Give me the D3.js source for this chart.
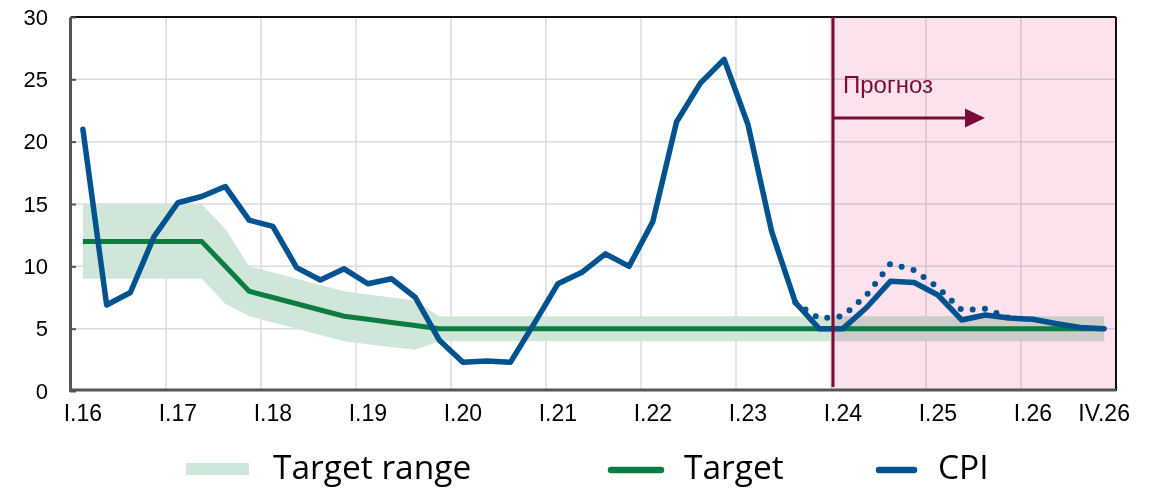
<!DOCTYPE html>
<html>
<head>
<meta charset="utf-8">
<script src="https://cdn.jsdelivr.net/npm/d3@7"></script>
<style>
  body { margin: 0; background: #fff; }
  svg { display: block; }
</style>
</head>
<body>
<script>
var years = ["16","17","18","19","20","21","22","23","24","25","26"];
var quarterNames = ["I","II","III","IV"];
var xTickLabels = ["I.16","I.17","I.18","I.19","I.20","I.21","I.22","I.23","I.24","I.25","I.26","IV.26"];
var yTicks = [0, 5, 10, 15, 20, 25, 30];

// CPI, % y/y, quarterly I.16 .. IV.26
var cpi = [21.0, 6.9, 7.9, 12.4, 15.1, 15.6, 16.4, 13.7, 13.2, 9.9, 8.9, 9.8,
           8.6, 9.0, 7.5, 4.1, 2.3, 2.4, 2.3, 5.4, 8.6, 9.5, 11.0, 10.0,
           13.6, 21.6, 24.7, 26.6, 21.4, 12.8, 7.1, 5.0, 5.0, 6.7, 8.8, 8.7,
           7.7, 5.7, 6.1, 5.85, 5.75, 5.4, 5.1, 5.0];
// alternative forecast scenario (dotted), III.23 .. IV.25
var cpiAltStart = "III.23";
var cpiAlt = [7.1, 5.8, 6.0, 7.7, 10.2, 9.7, 8.3, 6.5, 6.6, 5.85];

var target = [12, 12, 12, 12, 12, 12, 10, 8, 7.5, 7, 6.5, 6,
              5.75, 5.5, 5.25, 5, 5, 5, 5, 5, 5, 5, 5, 5,
              5, 5, 5, 5, 5, 5, 5, 5, 5, 5, 5, 5,
              5, 5, 5, 5, 5, 5, 5, 5];
var rangeHigh = [15, 15, 15, 15, 15, 15, 13, 10, 9.5, 9, 8.5, 8,
                 7.75, 7.5, 7.25, 6, 6, 6, 6, 6, 6, 6, 6, 6,
                 6, 6, 6, 6, 6, 6, 6, 6, 6, 6, 6, 6,
                 6, 6, 6, 6, 6, 6, 6, 6];
var rangeLow = [9, 9, 9, 9, 9, 9, 7, 6, 5.5, 5, 4.5, 4,
                3.75, 3.5, 3.3, 4, 4, 4, 4, 4, 4, 4, 4, 4,
                4, 4, 4, 4, 4, 4, 4, 4, 4, 4, 4, 4,
                4, 4, 4, 4, 4, 4, 4, 4];
var forecastStart = "I.24";
var forecastLabel = "Прогноз";
var arrowLevel = 21.9;

var quarters = [];
years.forEach(function(y) {
  quarterNames.forEach(function(q) { quarters.push(q + "." + y); });
});

var width = 1155, height = 489;
var margin = {top: 17, right: 39, bottom: 98, left: 71};

var svg = d3.select("body").append("svg")
  .attr("width", width)
  .attr("height", height);

var xScale = d3.scaleBand().domain(quarters).range([margin.left, width - margin.right]);
var yScale = d3.scaleLinear().domain([0, 30]).range([height - margin.bottom, margin.top]);
var half = xScale.bandwidth() / 2;
function xc(q) { return xScale(q) + half; }

var plotRight = width - margin.right;
var plotBottom = height - margin.bottom;
var axisFont = "Liberation Sans, Arial, sans-serif";

// grid
svg.append("g").selectAll("line")
  .data(yTicks.filter(function(d) { return d > 0 && d < 30; }))
  .enter().append("line")
  .attr("x1", margin.left).attr("x2", plotRight)
  .attr("y1", function(d) { return yScale(d); })
  .attr("y2", function(d) { return yScale(d); })
  .attr("stroke", "#d8dcdf").attr("stroke-width", 1.5);

svg.append("g").selectAll("line")
  .data(years.slice(1))
  .enter().append("line")
  .attr("x1", function(d) { return xScale("I." + d); })
  .attr("x2", function(d) { return xScale("I." + d); })
  .attr("y1", margin.top).attr("y2", plotBottom)
  .attr("stroke", "#d8dcdf").attr("stroke-width", 1.5);

// target range band
var area = d3.area()
  .x(function(d, i) { return xc(quarters[i]); })
  .y0(function(d, i) { return yScale(rangeLow[i]); })
  .y1(function(d, i) { return yScale(rangeHigh[i]); });
svg.append("path")
  .datum(rangeHigh)
  .attr("d", area)
  .attr("fill", "#cfe6d9");

// forecast region
svg.append("rect")
  .attr("x", xScale(forecastStart))
  .attr("y", margin.top)
  .attr("width", plotRight - xScale(forecastStart))
  .attr("height", plotBottom - margin.top)
  .attr("fill", "#fce2ec")
  .style("mix-blend-mode", "multiply");

// target line
var line = d3.line()
  .x(function(d, i) { return xc(quarters[i]); })
  .y(function(d) { return yScale(d); });
svg.append("path")
  .datum(target)
  .attr("d", line)
  .attr("fill", "none")
  .attr("stroke", "#0b7d41")
  .attr("stroke-width", 5);

// alternative scenario dotted
var altOffset = quarters.indexOf(cpiAltStart);
var altLine = d3.line()
  .x(function(d, i) { return xc(quarters[i + altOffset]); })
  .y(function(d) { return yScale(d); });
svg.append("path")
  .datum(cpiAlt)
  .attr("d", altLine)
  .attr("fill", "none")
  .attr("stroke", "#00538f")
  .attr("stroke-width", 6)
  .attr("stroke-linecap", "round")
  .attr("stroke-dasharray", "0 12.3");

// CPI
svg.append("path")
  .datum(cpi)
  .attr("d", line)
  .attr("fill", "none")
  .attr("stroke", "#00538f")
  .attr("stroke-width", 5.5)
  .attr("stroke-linejoin", "round")
  .attr("stroke-linecap", "round");

// frame
svg.append("line")
  .attr("x1", margin.left).attr("x2", plotRight)
  .attr("y1", margin.top).attr("y2", margin.top)
  .attr("stroke", "#111").attr("stroke-width", 2);
svg.append("line")
  .attr("x1", plotRight).attr("x2", plotRight)
  .attr("y1", margin.top).attr("y2", plotBottom)
  .attr("stroke", "#111").attr("stroke-width", 2);

var yAxis = d3.axisLeft(yScale).tickValues(yTicks).tickSize(-6).tickSizeOuter(0).tickPadding(22);
var gy = svg.append("g")
  .attr("transform", "translate(" + (margin.left - 1) + ",0)")
  .call(yAxis);
gy.select(".domain").attr("stroke", "#555").attr("stroke-width", 3);
gy.selectAll(".tick line").attr("stroke", "#555").attr("stroke-width", 2);
gy.selectAll("text")
  .attr("font-family", axisFont)
  .attr("font-size", 22).attr("fill", "#000");

var xAxis = d3.axisBottom(xScale)
  .tickValues(xTickLabels).tickSize(0).tickSizeOuter(0).tickPadding(15);
var gx = svg.append("g")
  .attr("transform", "translate(0," + (plotBottom - 1) + ")")
  .call(xAxis);
gx.select(".domain").attr("stroke", "#555").attr("stroke-width", 3)
  .attr("d", "M" + (margin.left - 2) + ",0H" + plotRight);
gx.selectAll("text")
  .attr("font-family", axisFont)
  .attr("font-size", 23).attr("fill", "#000");

// forecast marker
var fx = xScale(forecastStart) + 2;
var maroon = "#7b0a3a";
var ay = yScale(arrowLevel);
svg.append("line")
  .attr("x1", fx).attr("x2", fx)
  .attr("y1", margin.top).attr("y2", plotBottom - 4)
  .attr("stroke", maroon).attr("stroke-width", 3);
svg.append("line")
  .attr("x1", fx).attr("x2", 968)
  .attr("y1", ay).attr("y2", ay)
  .attr("stroke", maroon).attr("stroke-width", 3);
svg.append("path")
  .attr("d", "M965," + (ay - 9.5) + "L985," + ay + "L965," + (ay + 9.5) + "Z")
  .attr("fill", maroon);
svg.append("text")
  .attr("x", fx + 10).attr("y", 93)
  .attr("font-family", axisFont)
  .attr("font-size", 24)
  .attr("fill", maroon)
  .text(forecastLabel);

// legend
var legendY = 470;
var leg = svg.append("g");
leg.append("rect").attr("x", 186).attr("y", legendY - 7).attr("width", 63).attr("height", 12).attr("fill", "#cfe6d9");
leg.append("text").attr("x", 273).attr("y", legendY + 9).text("Target range");
leg.append("line").attr("x1", 611).attr("x2", 661).attr("y1", legendY).attr("y2", legendY)
  .attr("stroke", "#0b7d41").attr("stroke-width", 6.5).attr("stroke-linecap", "round");
leg.append("text").attr("x", 684).attr("y", legendY + 9).text("Target");
leg.append("line").attr("x1", 879).attr("x2", 914).attr("y1", legendY).attr("y2", legendY)
  .attr("stroke", "#00538f").attr("stroke-width", 6.5).attr("stroke-linecap", "round");
leg.append("text").attr("x", 938).attr("y", legendY + 9).text("CPI");
leg.selectAll("text")
  .attr("font-family", "Open Sans, sans-serif")
  .attr("font-size", 33.5)
  .attr("fill", "#000");
</script>
</body>
</html>
